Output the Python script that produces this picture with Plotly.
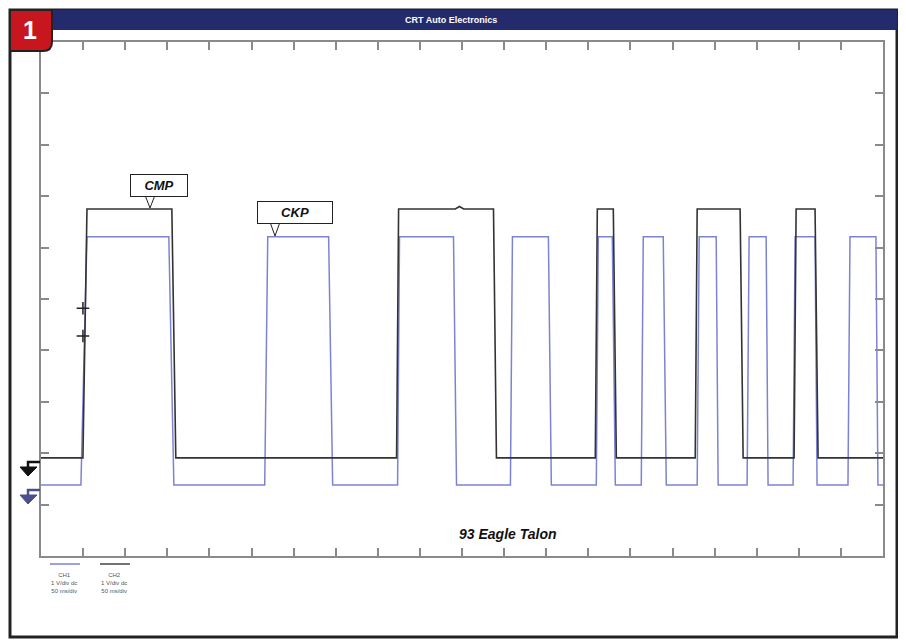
import plotly.graph_objects as go

# ---------------- data ----------------
# time axis: 50 ms/div, 20 divisions ; vertical: 10 divisions (1 V/div)
cmp_low, cmp_high = 1.91, 6.75
ckp_low, ckp_high = 1.38, 6.21

# CMP (black) transitions: (start_ms, end_ms) of each edge, first edge is rising
cmp_edges = [(49.8, 54.6), (155.4, 160.1), (422.3, 424.7), (537.4, 540.9),
             (658.3, 660.7), (679.7, 683.3), (777.0, 779.3), (830.3, 833.9),
             (894.4, 896.8), (919.3, 922.9)]
# CKP (blue) transitions
ckp_edges = [(47.4, 54.6), (151.8, 157.8), (265.7, 269.3), (341.6, 346.4),
             (423.5, 425.8), (489.9, 493.5), (557.5, 559.9), (602.6, 606.1),
             (659.5, 661.9), (678.5, 682.1), (712.9, 715.3), (739.0, 742.6),
             (779.3, 781.7), (801.9, 804.2), (838.6, 841.0), (861.2, 863.5),
             (893.2, 895.6), (919.3, 921.7), (958.4, 960.8), (991.6, 994.0)]
# small glitch on the CMP high level
cmp_glitch_t = [492.0, 497.0, 502.0]
cmp_glitch_v = [6.75, 6.80, 6.75]
# cursor marks on the first CMP rising edge
cursor_t = [49.8, 49.8]
cursor_v = [4.82, 4.28]

t_end = 1000.0


def build(edges, low, high, glitch_t=None, glitch_v=None):
    xs, ys = [0.0], [low]
    level = low
    for a, b in edges:
        nxt = high if level == low else low
        xs += [a, b]
        ys += [level, nxt]
        level = nxt
    xs.append(t_end)
    ys.append(level)
    if glitch_t:
        out_x, out_y = [], []
        inserted = False
        for x, y in zip(xs, ys):
            if not inserted and x > glitch_t[0] and out_x:
                out_x += glitch_t
                out_y += glitch_v
                inserted = True
            out_x.append(x)
            out_y.append(y)
        return out_x, out_y
    return xs, ys


cmp_x, cmp_y = build(cmp_edges, cmp_low, cmp_high, cmp_glitch_t, cmp_glitch_v)
ckp_x, ckp_y = build(ckp_edges, ckp_low, ckp_high)

# ---------------- figure ----------------
OFF = 8                      # page body margin
W, H = 906 - OFF, 640 - OFF  # figure size that fits the window
L, R, T, B = 41, 883, 42, 556   # plot area in page pixels


def px(x):
    return (x - L) / (R - L)


def py(y):
    return (B - y) / (B - T)


fig = go.Figure()
fig.add_trace(go.Scatter(x=ckp_x, y=ckp_y, mode="lines",
                         line=dict(color="#7d83d4", width=1.5), hoverinfo="skip"))
fig.add_trace(go.Scatter(x=cmp_x, y=cmp_y, mode="lines",
                         line=dict(color="#333333", width=1.6), hoverinfo="skip"))
fig.add_trace(go.Scatter(x=cursor_t, y=cursor_v, mode="markers",
                         marker=dict(symbol="cross-thin", size=9,
                                     line=dict(color="#222222", width=1.5)),
                         hoverinfo="skip"))

axis_common = dict(showline=True, linecolor="#8a8a8a", linewidth=2, mirror="ticks",
                   ticks="inside", ticklen=8, tickcolor="#8a8a8a", tickwidth=1.5,
                   showticklabels=False, showgrid=False, zeroline=False, fixedrange=True)
fig.update_xaxes(range=[0, t_end], dtick=50, tick0=0, **axis_common)
fig.update_yaxes(range=[0, 10], dtick=1, tick0=0, **axis_common)

shapes = []
# outer frame
shapes.append(dict(type="rect", xref="paper", yref="paper",
                   x0=px(10), x1=px(897), y0=py(10), y1=py(637),
                   line=dict(color="#222222", width=3), layer="above"))
# title bar
shapes.append(dict(type="rect", xref="paper", yref="paper",
                   x0=px(52), x1=px(897), y0=py(10), y1=py(30),
                   fillcolor="#232b6c", line=dict(width=0), layer="above"))
# red badge with rounded lower-right corner
bx0, by0, bx1, by1, rr = 10, 10, 52, 51, 9
badge = (f"M {px(bx0)},{py(by0)} L {px(bx1)},{py(by0)} L {px(bx1)},{py(by1 - rr)} "
         f"Q {px(bx1)},{py(by1)} {px(bx1 - rr)},{py(by1)} L {px(bx0)},{py(by1)} Z")
shapes.append(dict(type="path", xref="paper", yref="paper", path=badge,
                   fillcolor="#c8161e", line=dict(color="#222222", width=2), layer="above"))

# channel ground arrows
for (yy, col) in [(462, "#111111"), (490, "#4b4f8f")]:
    shapes.append(dict(type="path", xref="paper", yref="paper",
                       path=f"M {px(40)},{py(yy)} L {px(28)},{py(yy)} L {px(28)},{py(yy + 5)}",
                       line=dict(color=col, width=2.5), layer="above"))
    shapes.append(dict(type="path", xref="paper", yref="paper",
                       path=f"M {px(20)},{py(yy + 5)} L {px(37)},{py(yy + 5)} L {px(28)},{py(yy + 14)} Z",
                       fillcolor=col, line=dict(color=col, width=1), layer="above"))

# legend lines under the axis
shapes.append(dict(type="line", xref="paper", yref="paper", x0=px(50), x1=px(80),
                   y0=py(564), y1=py(564), line=dict(color="#7d83d4", width=1.5)))
shapes.append(dict(type="line", xref="paper", yref="paper", x0=px(100), x1=px(130),
                   y0=py(564), y1=py(564), line=dict(color="#444444", width=1.5)))

annotations = []


def ann(x, y, text, **kw):
    d = dict(xref="paper", yref="paper", x=px(x), y=py(y), text=text, showarrow=False,
             xanchor="center", yanchor="middle")
    d.update(kw)
    annotations.append(d)


ann(451, 20, "<b>CRT Auto Electronics</b>",
    font=dict(family="Liberation Sans", size=9, color="white"))
ann(30, 30, "<b>1</b>", font=dict(family="Liberation Sans", size=25, color="white"))
ann(159, 185, "<b><i>CMP</i></b>", width=54, height=19, bgcolor="white",
    bordercolor="#222222", borderwidth=1, borderpad=1,
    font=dict(family="Liberation Sans", size=13, color="#111111"))
ann(295, 212, "<b><i>CKP</i></b>", width=72, height=19, bgcolor="white",
    bordercolor="#222222", borderwidth=1, borderpad=1,
    font=dict(family="Liberation Sans", size=13, color="#111111"))
ann(508, 534, "<b><i>93 Eagle Talon</i></b>",
    font=dict(family="Liberation Sans", size=14, color="#111111"))
for cx, name in [(64, "CH1"), (114, "CH2")]:
    ann(cx, 583, f"{name}<br>1 V/div dc<br>50 ms/div", align="center",
        font=dict(family="Liberation Sans", size=6, color="#555555"))

# callout pointers (drawn after boxes so they cover the box edge)
for (xa, xb, ytop, xtip, ytip) in [(145, 155, 196, 150, 208), (270, 280, 223, 275, 236)]:
    shapes.append(dict(type="path", xref="paper", yref="paper",
                       path=f"M {px(xa)},{py(ytop - 1)} L {px(xtip)},{py(ytip)} L {px(xb)},{py(ytop - 1)}",
                       fillcolor="white", line=dict(color="#222222", width=1), layer="above"))

fig.update_layout(width=W, height=H,
                  margin=dict(l=L - OFF, r=W - (R - OFF), t=T - OFF, b=H - (B - OFF), pad=0),
                  paper_bgcolor="white", plot_bgcolor="white", showlegend=False,
                  shapes=shapes, annotations=annotations)

fig.write_html("out.html")
